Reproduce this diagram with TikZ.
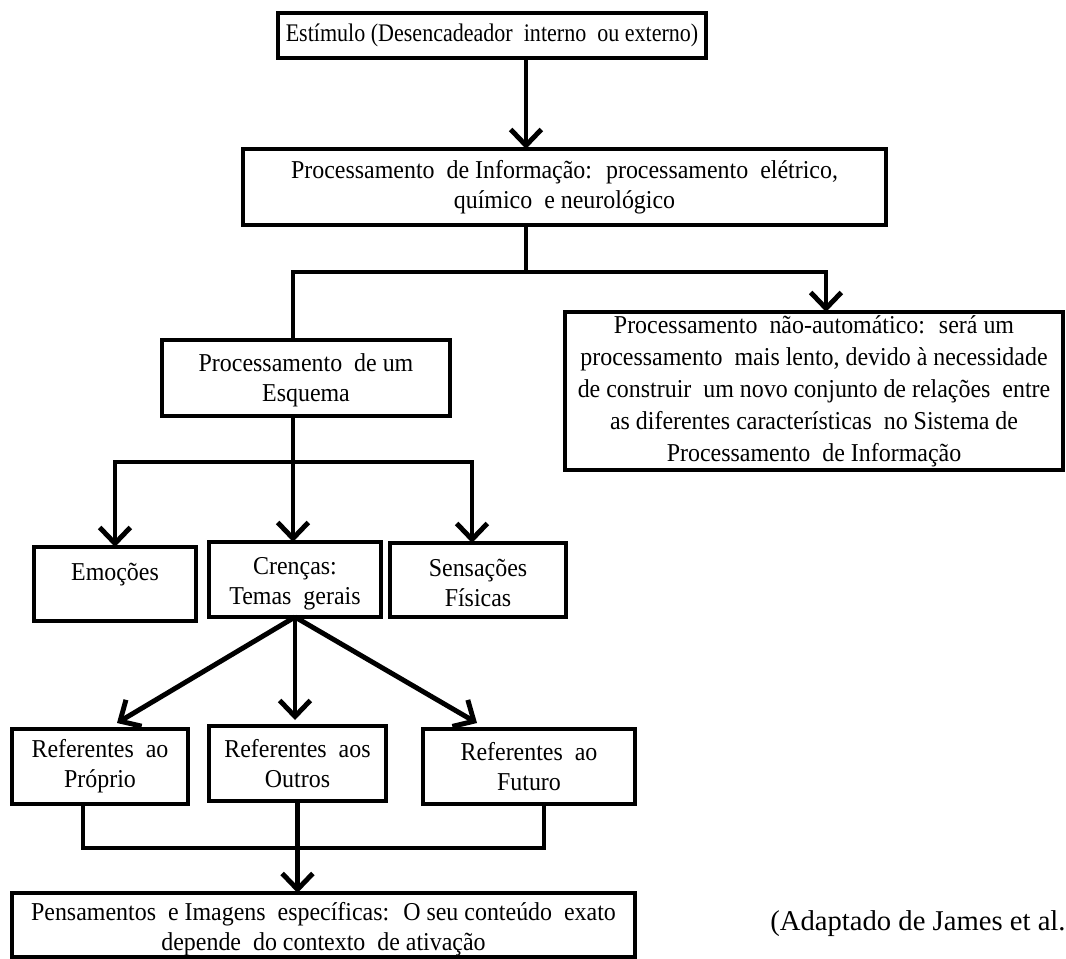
\documentclass[tikz,border=0pt]{standalone}
\usepackage{fontspec}
\setmainfont{Liberation Serif}
\newfontfamily\boxfont{Liberation Serif}[FakeStretch=0.93]
\newfontfamily\stimfont{Liberation Serif}[FakeStretch=0.87]
\usetikzlibrary{arrows.meta,calc}
\begin{document}
\begin{tikzpicture}[x=0.75pt,y=-0.75pt,
  box/.style={draw, line width=2.4pt, inner sep=0pt, outer sep=0pt, align=center, anchor=north west, font=\boxfont\fontsize{19.3}{22.5}\selectfont},
  conn/.style={line width=3.7pt},
  arr/.style={conn, -{Straight Barb[length=12pt,width=23pt]}}]
\useasboundingbox (0,0) rectangle (1066,959);
% boxes
\node[box, minimum width=321pt, minimum height=33.75pt, font=\stimfont\fontsize{19}{22}\selectfont] (stim) at (278,13) {Estímulo (Desencadeador \ interno \ ou externo)};
\node[box, minimum width=482.25pt, minimum height=57pt] (info) at (243,149) {Processamento \ de Informação: \ processamento \ elétrico,\\químico \ e neurológico};
\node[box, minimum width=373.5pt, minimum height=118.5pt, font=\boxfont\fontsize{19.3}{24}\selectfont] (nonauto) at (565,312) {Processamento \ não-automático: \ será um\\processamento \ mais lento, devido à necessidade\\de construir \ um novo conjunto de relações \ entre\\as diferentes características \ no Sistema de\\Processamento \ de Informação};
\node[box, minimum width=216pt, minimum height=57pt] (esq) at (162,340) {\rule{0pt}{17pt}Processamento \ de um\\Esquema};
\node[box, minimum width=121.5pt, minimum height=55.5pt] (emo) at (34,547) {\rule{0pt}{17pt}Emoções\\\phantom{X}};
\node[box, minimum width=129pt, minimum height=56.25pt] (cren) at (209,542) {\rule{0pt}{19pt}Crenças:\\Temas \ gerais};
\node[box, minimum width=132pt, minimum height=55.5pt] (sens) at (390,543) {\rule{0pt}{17pt}Sensações\\Físicas};
\node[box, minimum width=132pt, minimum height=56.25pt] (prop) at (12,729) {Referentes \ ao\\Próprio};
\node[box, minimum width=132.75pt, minimum height=56.25pt] (outr) at (209,726) {Referentes \ aos\\Outros};
\node[box, minimum width=159pt, minimum height=56.25pt] (fut) at (423,729) {Referentes \ ao\\Futuro};
\node[box, minimum width=467.25pt, minimum height=48pt] (pens) at (12,893) {\rule{0pt}{19.5pt}Pensamentos \ e Imagens \ específicas: \ O seu conteúdo \ exato\\depende \ do contexto \ de ativação};
\node[anchor=base west, inner sep=0pt, font=\fontsize{21.5}{25}\selectfont] (src) at (770,930) {(Adaptado de James et al.};
% junction coordinates
\coordinate (t1) at (526,272);
\coordinate (xn) at (826,0);
\coordinate (t2) at (293,462);
\coordinate (xs) at (472,0);
\coordinate (t3) at (298,848);
\coordinate (xa) at (83,0);
\coordinate (xb) at (544,0);
% connectors
\draw[arr] (stim.south -| t1) -- (info.north -| t1);
\draw[conn] (info.south -| t1) -- (t1);
\draw[arr] (esq.north -| t2) |- (t1) -| (nonauto.north -| xn);
\draw[conn] (esq.south -| t2) -- (t2);
\draw[arr] (t2) -| (emo.north);
\draw[arr] (t2) -| (sens.north -| xs);
\draw[arr] (esq.south -| t2) -- (cren.north -| t2);
\draw[arr] (cren.south) -- ($(prop.north)+(17,-6)$);
\draw[arr] (cren.south) -- ($(cren.south |- outr.north)+(0,-6)$);
\draw[arr] (cren.south) -- ($(fut.north)+(-52,-6)$);
\draw[conn] (prop.south -| xa) |- (t3) -| (fut.south -| xb);
\draw[arr] (outr.south) -- (pens.north -| outr.south);
\end{tikzpicture}
\end{document}
